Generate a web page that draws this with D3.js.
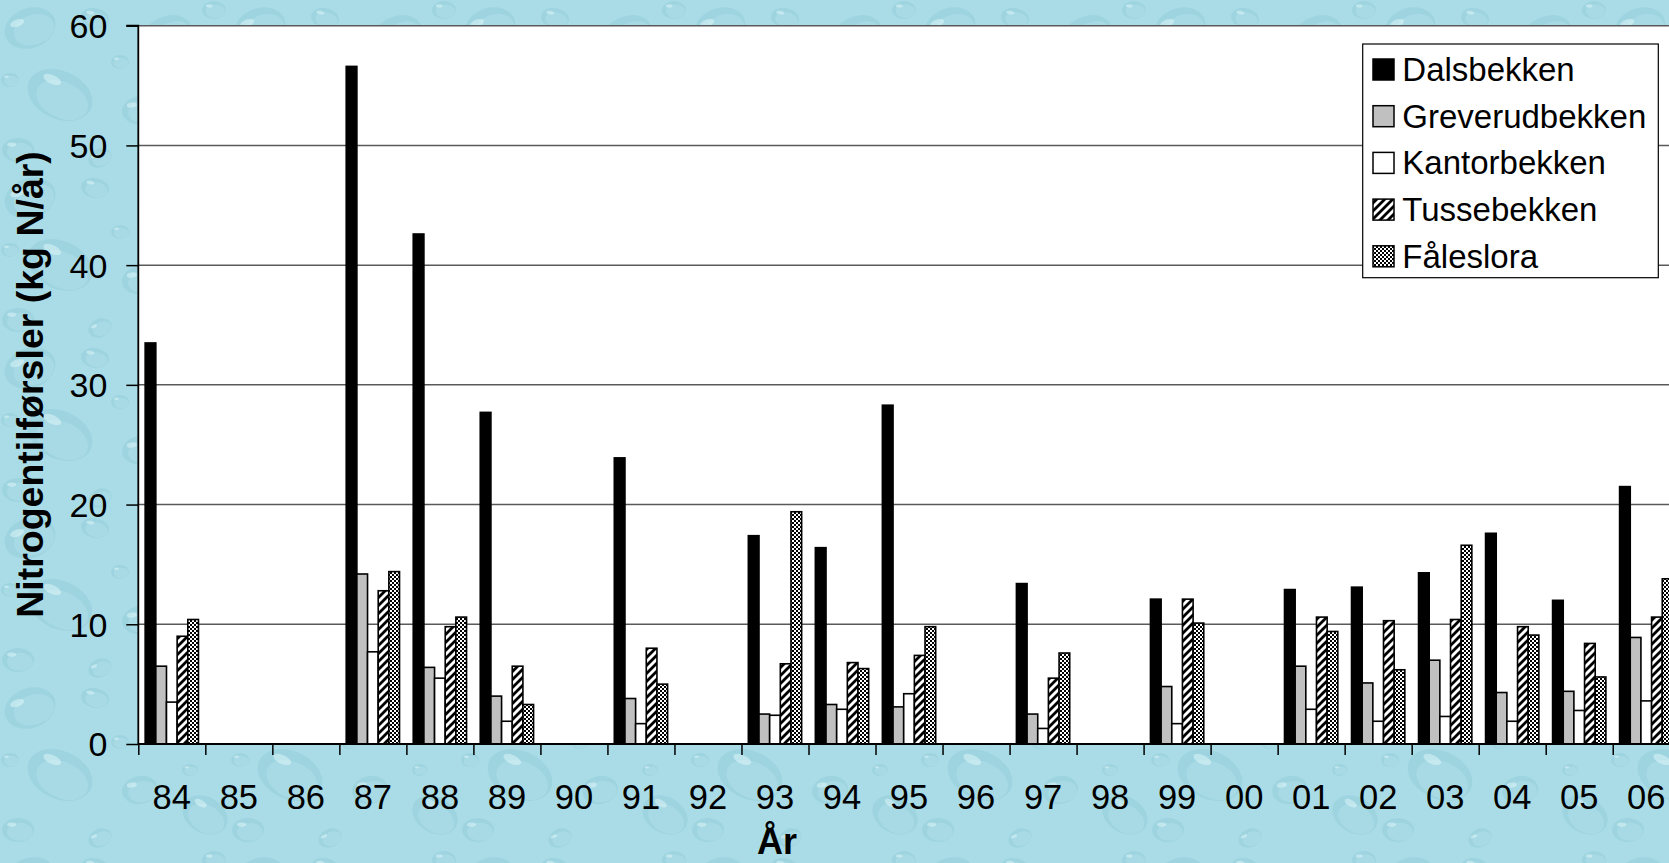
<!DOCTYPE html>
<html>
<head>
<meta charset="utf-8">
<script src="https://cdn.jsdelivr.net/npm/d3@7"></script>
<style>
  html, body { margin: 0; padding: 0; overflow: hidden; background: #a8dce6; }
  svg { display: block; }
  text { font-family: "Liberation Sans", Arial, Helvetica, sans-serif; fill: #000; }
</style>
</head>
<body>
<svg id="chart" width="1669" height="863"></svg>
<script>
// Annual nitrogen loads (kg N/år) per stream, 1984–2006
const years = ["84","85","86","87","88","89","90","91","92","93","94","95","96","97","98","99","00","01","02","03","04","05","06"];
const dalsbekken     = [33.5, null, null, 56.6, 42.6, 27.7, null, 23.9, null, 17.4, 16.4, 28.3, null, 13.4, null, 12.1, null, 12.9, 13.1, 14.3, 17.6, 12.0, 21.5];
const greverudbekken = [6.5,  null, null, 14.2, 6.4,  4.0,  null, 3.8,  null, 2.5,  3.3,  3.1,  null, 2.5,  null, 4.8,  null, 6.5,  5.1,  7.0,  4.3,  4.4,  8.9];
const kantorbekken   = [3.5,  null, null, 7.7,  5.5,  1.9,  null, 1.7,  null, 2.4,  2.9,  4.2,  null, 1.3,  null, 1.7,  null, 2.9,  1.9,  2.3,  1.9,  2.8,  3.6];
const tussebekken    = [9.0,  null, null, 12.8, 9.8,  6.5,  null, 8.0,  null, 6.7,  6.8,  7.4,  null, 5.5,  null, 12.1, null, 10.6, 10.3, 10.4, 9.8,  8.4,  10.6];
const faleslora      = [10.4, null, null, 14.4, 10.6, 3.3,  null, 5.0,  null, 19.4, 6.3,  9.8,  null, 7.6,  null, 10.1, null, 9.4,  6.2,  16.6, 9.1,  5.6,  13.8];
const seriesNames = ["Dalsbekken", "Greverudbekken", "Kantorbekken", "Tussebekken", "Fåleslora"];
const yTicks = [0, 10, 20, 30, 40, 50, 60];

const seriesValues = [dalsbekken, greverudbekken, kantorbekken, tussebekken, faleslora];
const fills = ["#000000", "#c0c0c0", "#ffffff", "url(#hatch)", "url(#checker)"];

const svg = d3.select("#chart");
const W = 1669, H = 863;

const defs = svg.append("defs");

// Water-drop backdrop tile
const drops = defs.append("pattern").attr("id", "drops")
  .attr("patternUnits", "userSpaceOnUse").attr("width", 230).attr("height", 170);
drops.append("rect").attr("width", 230).attr("height", 170).attr("fill", "#a9dce6");
const dropShapes = [
  [30, 28, 26, 20, -20], [95, 18, 14, 10, 10], [165, 40, 30, 22, -35], [214, 10, 12, 9, 0],
  [60, 95, 34, 24, 25], [140, 110, 18, 14, -10], [205, 135, 24, 18, 30], [18, 150, 16, 12, 0],
  [100, 158, 12, 9, -25], [120, 62, 9, 7, 0], [190, 90, 8, 6, 0], [10, 80, 9, 7, 0]
];
dropShapes.forEach(([cx, cy, rx, ry, rot]) => {
  const gd = drops.append("g").attr("transform", `translate(${cx},${cy}) rotate(${rot})`);
  gd.append("ellipse").attr("rx", rx).attr("ry", ry)
    .attr("fill", "#86c5d3").attr("opacity", 0.35);
  gd.append("ellipse").attr("cx", rx * 0.12).attr("cy", ry * 0.15)
    .attr("rx", rx * 0.8).attr("ry", ry * 0.75)
    .attr("fill", "#b6e3ec").attr("opacity", 0.45);
  gd.append("ellipse").attr("cx", -rx * 0.4).attr("cy", -ry * 0.45)
    .attr("rx", rx * 0.28).attr("ry", ry * 0.18)
    .attr("fill", "#e2f7fa").attr("opacity", 0.5);
});

// Fill patterns for the last two series
const hatch = defs.append("pattern").attr("id", "hatch")
  .attr("patternUnits", "userSpaceOnUse").attr("width", 8).attr("height", 8);
hatch.append("rect").attr("width", 8).attr("height", 8).attr("fill", "#fff");
hatch.append("path").attr("d", "M-2,2 L2,-2 M0,8 L8,0 M6,10 L10,6")
  .attr("stroke", "#000").attr("stroke-width", 2.8);
const checker = defs.append("pattern").attr("id", "checker")
  .attr("patternUnits", "userSpaceOnUse").attr("width", 4).attr("height", 4);
checker.append("rect").attr("width", 4).attr("height", 4).attr("fill", "#000");
checker.append("rect").attr("width", 2).attr("height", 2).attr("fill", "#fff");
checker.append("rect").attr("x", 2).attr("y", 2).attr("width", 2).attr("height", 2).attr("fill", "#fff");

// Page background
svg.append("rect").attr("width", W).attr("height", H).attr("fill", "url(#drops)");

// Plot frame
const plotLeft = 138.3, plotTop = 25.7, plotBottom = 744, step = 67.02;
const plotRight = plotLeft + step * years.length;

const x = d3.scaleBand().domain(years).range([plotLeft, plotRight]).padding(0);
const xs = d3.scaleBand().domain(seriesNames).range([0, x.bandwidth()]).paddingInner(0).paddingOuter(0.643);
const y = d3.scaleLinear().domain([0, 60]).range([plotBottom, plotTop]);

svg.append("rect").attr("x", plotLeft).attr("y", plotTop)
  .attr("width", plotRight - plotLeft).attr("height", plotBottom - plotTop).attr("fill", "#fff");

// Horizontal gridlines
svg.append("g").selectAll("line").data(yTicks.filter(d => d > 0)).join("line")
  .attr("x1", plotLeft).attr("x2", plotRight)
  .attr("y1", d => y(d)).attr("y2", d => y(d))
  .attr("stroke", "#5a5a5a").attr("stroke-width", 1.5);

// Bars
const bars = svg.append("g");
seriesValues.forEach((vals, si) => {
  bars.append("g").selectAll("rect")
    .data(years.map((yr, i) => ({ yr, v: vals[i] })).filter(d => d.v != null))
    .join("rect")
    .attr("x", d => x(d.yr) + xs(seriesNames[si]))
    .attr("width", xs.bandwidth())
    .attr("y", d => y(d.v))
    .attr("height", d => y(0) - y(d.v))
    .attr("fill", fills[si])
    .attr("stroke", "#000")
    .attr("stroke-width", 1.6);
});

// Y axis
const yAxis = svg.append("g").attr("transform", `translate(${plotLeft},0)`)
  .call(d3.axisLeft(y).tickValues(yTicks).tickSize(12).tickPadding(19));
yAxis.selectAll("text").attr("font-size", 34).attr("dy", "0.35em");
yAxis.selectAll("line").attr("stroke", "#000").attr("stroke-width", 1.5);
yAxis.select(".domain").attr("stroke", "#000").attr("stroke-width", 1.8).attr("d", `M-12,${plotTop}H0V${plotBottom}`);

// X axis: boundary ticks between categories
const xb = d3.scaleLinear().domain([0, years.length]).range([plotLeft, plotRight]);
const xTicks = svg.append("g").attr("transform", `translate(0,${plotBottom})`)
  .call(d3.axisBottom(xb).tickValues(d3.range(years.length + 1)).tickFormat("").tickSize(11));
xTicks.selectAll("line").attr("stroke", "#000").attr("stroke-width", 1.5);
xTicks.select(".domain").attr("stroke", "#000").attr("stroke-width", 1.8).attr("d", `M${plotLeft},0H${plotRight}`);

// X axis: category labels
const xLabels = svg.append("g").attr("transform", `translate(0,${plotBottom})`)
  .call(d3.axisBottom(x).tickSize(0).tickPadding(41));
xLabels.select(".domain").remove();
xLabels.selectAll("text").attr("font-size", 34.5);

// Axis titles
svg.append("text")
  .attr("transform", `translate(43,384.5) rotate(-90)`)
  .attr("text-anchor", "middle").attr("font-size", 37.5).attr("font-weight", "bold")
  .text("Nitrogentilførsler (kg N/år)");
svg.append("text")
  .attr("x", 777).attr("y", 854)
  .attr("text-anchor", "middle").attr("font-size", 36).attr("font-weight", "bold")
  .text("År");

// Legend
const lg = svg.append("g");
lg.append("rect").attr("x", 1362.7).attr("y", 44).attr("width", 295.6).attr("height", 233.7)
  .attr("fill", "#fff").attr("stroke", "#000").attr("stroke-width", 1.2);
seriesNames.forEach((name, i) => {
  const cy = 69.5 + i * 46.7;
  lg.append("rect").attr("x", 1373).attr("y", cy - 10.5).attr("width", 21).attr("height", 21)
    .attr("fill", fills[i]).attr("stroke", "#000").attr("stroke-width", 1.5);
  lg.append("text").attr("x", 1402.3).attr("y", cy).attr("dy", "0.35em")
    .attr("font-size", 33).text(name);
});
</script>
</body>
</html>
